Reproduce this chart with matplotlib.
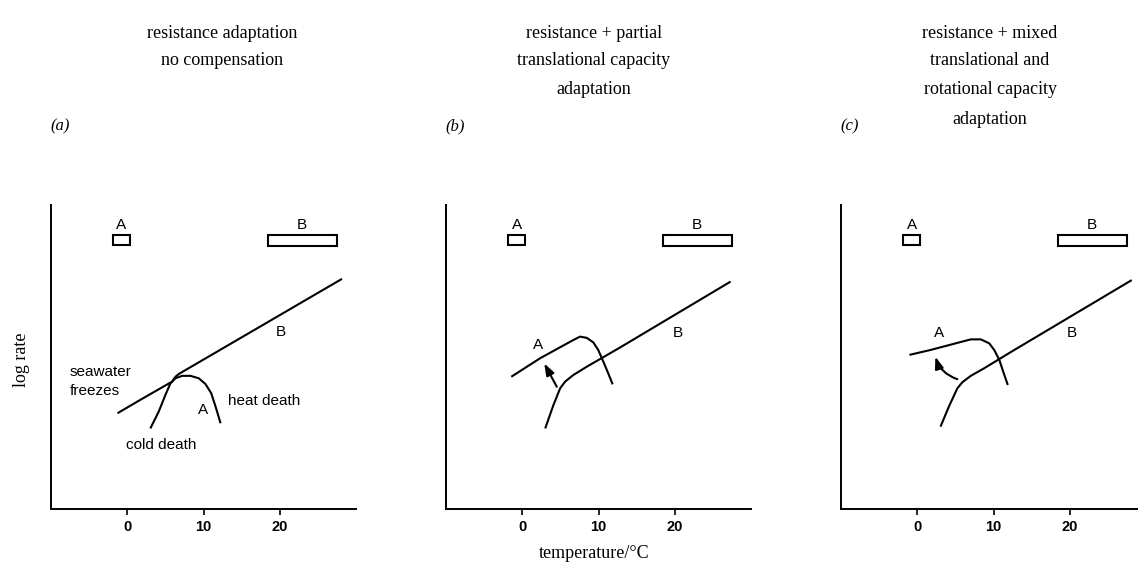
import matplotlib
matplotlib.use("Agg")
import matplotlib.pyplot as plt
from matplotlib.patches import Rectangle

# ---------------- data ----------------
titles = [
    ["resistance adaptation", "no compensation"],
    ["resistance + partial", "translational capacity", "adaptation"],
    ["resistance + mixed", "translational and", "rotational capacity", "adaptation"],
]
panel_tags = ["(a)", "(b)", "(c)"]
xticks = [0, 10, 20]
xlabel = "temperature/°C"
ylabel = "log rate"

# tolerance ranges (temperature) of species A and B
rangeA = (-1.9, 0.4)
rangeB = (18.4, 27.5)

# panel (a)
a_lineB_T = [-1.28, 1.71, 5.88, 6.32, 6.75, 28.16]
a_lineB_y = [3.15, 3.59, 4.19, 4.35, 4.44, 7.57]
a_curveA_T = [3.03, 4.12, 5.0, 5.66, 6.32, 7.2, 8.29, 9.38, 10.26, 11.01, 11.58, 12.24]
a_curveA_y = [2.65, 3.2, 3.75, 4.13, 4.3, 4.38, 4.38, 4.3, 4.11, 3.81, 3.37, 2.82]

# panel (b)
b_upper_T = [-1.44, 2.35, 6.71, 7.58, 8.46, 9.32, 9.97, 10.63, 11.28, 11.86]
b_upper_y = [4.35, 4.96, 5.56, 5.67, 5.63, 5.48, 5.23, 4.85, 4.46, 4.1]
b_lower_T = [3.01, 4.09, 4.97, 5.62, 6.71, 8.46, 12.81, 27.32]
b_lower_y = [2.65, 3.42, 3.97, 4.19, 4.41, 4.68, 5.31, 7.48]
b_arrow = ((4.53, 4.02), (2.88, 4.79))

# panel (c)
c_upper_T = [-1.02, 1.72, 7.02, 8.34, 9.44, 10.1, 10.77, 11.35, 11.88]
c_upper_y = [5.07, 5.23, 5.58, 5.58, 5.45, 5.23, 4.9, 4.46, 4.08]
c_lower_T = [3.05, 4.15, 5.26, 5.92, 7.02, 8.78, 12.32, 28.13]
c_lower_y = [2.71, 3.37, 3.97, 4.17, 4.38, 4.63, 5.17, 7.53]
c_arrow = ((5.26, 4.27), (2.38, 5.01))

# ---------------- figure ----------------
W, H = 1138, 567
fig = plt.figure(figsize=(W / 100, H / 100), dpi=100)
fig.patch.set_facecolor("white")

SERIF = ["Liberation Serif", "DejaVu Serif"]
SANS = ["Liberation Sans", "DejaVu Sans"]
NARROW = ["Liberation Sans Narrow", "Liberation Sans", "DejaVu Sans"]
LW = 1.5

def px_axes(left, bottom_px, right, top_px):
    return fig.add_axes([left / W, 1 - bottom_px / H, (right - left) / W,
                         (bottom_px - top_px) / H])

lefts = [51, 446, 841]
axes = [px_axes(l, 509, l + 305, 205) for l in lefts]

for ax in axes:
    ax.set_xlim(-10, 30)
    ax.set_ylim(0, 10)
    for s in ["top", "right"]:
        ax.spines[s].set_visible(False)
    ax.spines["left"].set_linewidth(1.4)
    ax.spines["bottom"].set_linewidth(1.4)
    ax.set_yticks([])
    ax.set_xticks(xticks)
    ax.set_xticklabels([str(t) for t in xticks], family=NARROW,
                       fontsize=10.5, fontweight="bold")
    ax.tick_params(axis="x", direction="out", length=4, width=1.2, pad=4)
    ax.set_facecolor("none")
    # tolerance boxes
    ax.add_patch(Rectangle((rangeA[0], 8.68), rangeA[1] - rangeA[0], 0.34,
                           fill=False, lw=LW, ec="black"))
    ax.add_patch(Rectangle((rangeB[0], 8.66), rangeB[1] - rangeB[0], 0.36,
                           fill=False, lw=LW, ec="black"))
    ax.text((rangeA[0] + rangeA[1]) / 2, 9.1, "A", family=SANS, fontsize=11,
            ha="center", va="bottom")
    ax.text((rangeB[0] + rangeB[1]) / 2, 9.1, "B", family=SANS, fontsize=11,
            ha="center", va="bottom")

ax_a, ax_b, ax_c = axes
kw = dict(color="black", lw=LW, solid_capstyle="butt", solid_joinstyle="round")
arrow_style = "-|>,head_length=0.7,head_width=0.25"

# panel (a)
ax_a.plot(a_lineB_T, a_lineB_y, **kw)
ax_a.plot(a_curveA_T, a_curveA_y, **kw)
ax_a.text(-7.5, 4.5, "seawater", family=SANS, fontsize=11, ha="left", va="center")
ax_a.text(-7.5, 3.88, "freezes", family=SANS, fontsize=11, ha="left", va="center")
ax_a.text(9.9, 3.26, "A", family=SANS, fontsize=11, ha="center", va="center")
ax_a.text(13.2, 3.55, "heat death", family=SANS, fontsize=11, ha="left", va="center")
ax_a.text(4.5, 2.1, "cold death", family=SANS, fontsize=11, ha="center", va="center")
ax_a.text(20.1, 5.82, "B", family=SANS, fontsize=11, ha="center", va="center")

# panel (b)
ax_b.plot(b_upper_T, b_upper_y, **kw)
ax_b.plot(b_lower_T, b_lower_y, **kw)
ax_b.annotate("", xy=b_arrow[1], xytext=b_arrow[0],
              arrowprops=dict(arrowstyle=arrow_style, color="black", lw=LW,
                              shrinkA=0, shrinkB=0))
ax_b.text(2.1, 5.39, "A", family=SANS, fontsize=11, ha="center", va="center")
ax_b.text(20.4, 5.8, "B", family=SANS, fontsize=11, ha="center", va="center")

# panel (c)
ax_c.plot(c_upper_T, c_upper_y, **kw)
ax_c.plot(c_lower_T, c_lower_y, **kw)
ax_c.annotate("", xy=c_arrow[1], xytext=c_arrow[0],
              arrowprops=dict(arrowstyle=arrow_style, color="black", lw=LW,
                              shrinkA=0, shrinkB=0,
                              connectionstyle="arc3,rad=-0.25"))
ax_c.text(2.8, 5.78, "A", family=SANS, fontsize=11, ha="center", va="center")
ax_c.text(20.3, 5.78, "B", family=SANS, fontsize=11, ha="center", va="center")

# titles
title_x = [222, 594, 990]
line_y = [33, 61, 90, 119]
for tx, lines in zip(title_x, titles):
    for i, s in enumerate(lines):
        fig.text(tx / W, 1 - line_y[i] / H, s, family=SERIF, fontsize=13,
                 ha="center", va="center")

for l, tag in zip(lefts, panel_tags):
    fig.text((l - 1) / W, 1 - 126 / H, tag, family=SERIF, fontsize=12,
             style="italic", ha="left", va="center")

fig.text(594 / W, 1 - 553 / H, xlabel, family=SERIF, fontsize=13,
         ha="center", va="center")
fig.text(22 / W, 1 - 360 / H, ylabel, family=SERIF, fontsize=13,
         ha="center", va="center", rotation=90)

fig.savefig("out.png", dpi=100, facecolor="white")
